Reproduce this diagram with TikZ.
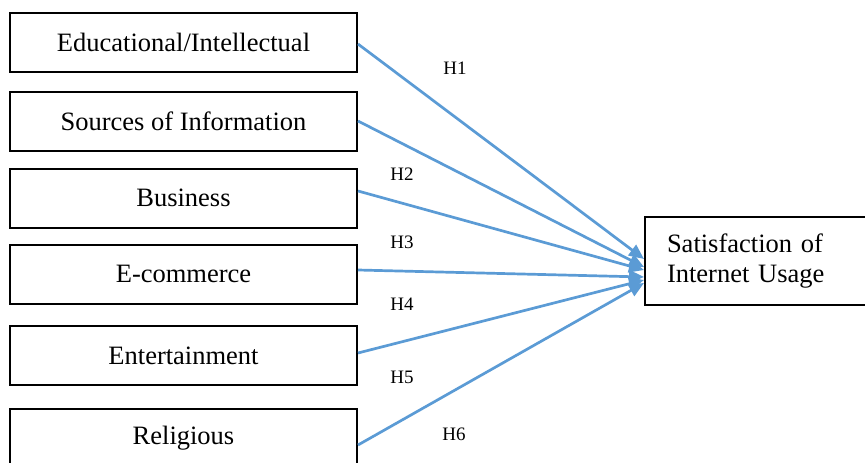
\documentclass[tikz,border=0pt]{standalone}
\usepackage{fontspec}
\setmainfont{Liberation Serif}
\usetikzlibrary{arrows.meta,positioning}
\definecolor{arrowblue}{RGB}{91,155,213}
\tikzset{
  varbox/.style={draw=black, line width=2pt, minimum width=347pt, minimum height=59pt, inner sep=0pt, font=\fontsize{26.5}{30}\selectfont},
  hlabel/.style={font=\fontsize{19}{22}\selectfont, inner sep=0pt},
  link/.style={draw=arrowblue, line width=2.7pt, -{Triangle[length=15pt,width=13pt]}},
}
\begin{document}
\begin{tikzpicture}[x=1pt,y=-1pt]
\useasboundingbox (0,0) rectangle (865,463);
\clip (0,0) rectangle (865,463);
\node[varbox] (e1) at (183.5,42.5) {Educational/Intellectual};
\node[varbox] (e2) at (183.5,121) {Sources of Information};
\node[varbox] (e3) at (183.5,198) {Business};
\node[varbox] (e4) at (183.5,274) {E-commerce};
\node[varbox] (e5) at (183.5,355.5) {Entertainment};
\node[varbox] (e6) at (183.5,438.5) {Religious};
\node[draw=black, line width=2pt, anchor=north west, minimum height=88pt, text width=196pt, inner xsep=22pt, inner ysep=0pt, align=left, font=\fontsize{26.5}{30}\selectfont] (t) at (644,216) {Satisfaction of\\Internet Usage};
\coordinate (p1) at ([yshift=2pt]t.west);
\coordinate (p2) at ([yshift=-6pt]t.west);
\coordinate (p3) at ([yshift=-9pt]t.west);
\coordinate (p4) at ([yshift=-16pt]t.west);
\coordinate (p5) at ([yshift=-19pt]t.west);
\coordinate (p6) at ([yshift=-22pt]t.west);
\draw[link] ([yshift=-1.5pt]e1.east) -- (p1);
\draw[link] (e2.east) -- (p2);
\draw[link] ([yshift=7pt]e3.east) -- (p3);
\draw[link] ([yshift=4pt]e4.east) -- (p4);
\draw[link] ([yshift=2.5pt]e5.east) -- (p5);
\draw[link] ([yshift=-6.5pt]e6.east) -- (p6);
\node[hlabel] (h1) at (455,68) {H1};
\node[hlabel] (h2) at (402,174) {H2};
\node[hlabel] (h3) at (402,242) {H3};
\node[hlabel] (h4) at (402,304) {H4};
\node[hlabel] (h5) at (402,377) {H5};
\node[hlabel] (h6) at (454,434) {H6};
\end{tikzpicture}
\end{document}
